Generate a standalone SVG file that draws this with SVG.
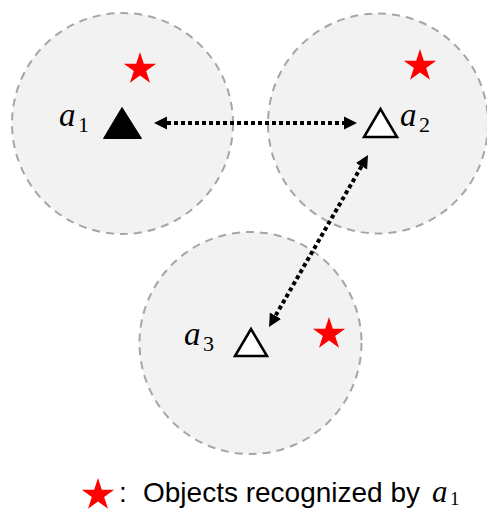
<svg xmlns="http://www.w3.org/2000/svg" xmlns:xlink="http://www.w3.org/1999/xlink" width="487" height="510" viewBox="0 0 487 510">
  <style>
    .range { fill: #f2f2f2; stroke: #a6a6a6; stroke-width: 2; stroke-dasharray: 8 6; }
    .agent-filled { fill: #000; stroke: #000; stroke-width: 1; stroke-linejoin: miter; }
    .agent-open { fill: #fff; stroke: #000; stroke-width: 2.5; stroke-linejoin: miter; }
    .obj { fill: #ff0000; }
    .link { fill: none; stroke: #000; stroke-width: 4; stroke-dasharray: 4 3; }
    .math { font-family: "Liberation Serif", "DejaVu Serif", serif; font-style: italic; font-size: 33px; fill: #000; }
    .sub { font-family: "Liberation Serif", "DejaVu Serif", serif; font-style: normal; font-size: 22px; fill: #000; }
    .legend { font-family: "Liberation Sans", Arial, sans-serif; font-size: 28px; fill: #000; }
  </style>
  <defs>
    <path id="star" d="M0,-17 L3.82,-5.25 L16.17,-5.25 L6.17,2.01 L9.99,13.75 L0,6.49 L-9.99,13.75 L-6.17,2.01 L-16.17,-5.25 L-3.82,-5.25 Z"/>
    <marker id="head" markerUnits="userSpaceOnUse" markerWidth="14" markerHeight="14" viewBox="0 -7 14 14" refX="0" refY="0" orient="auto-start-reverse">
      <path d="M0,-6.5 L13,0 L0,6.5 Z" fill="#000"/>
    </marker>
  </defs>

  <!-- agent a1 with its sensing range -->
  <g id="agent-a1">
    <circle class="range" cx="122.5" cy="123.5" r="110.5"/>
    <use xlink:href="#star" class="obj" transform="translate(140,69)"/>
    <polygon class="agent-filled" points="122,107.5 103.5,138.5 141.5,138.5"/>
    <text class="math" x="59" y="126">a</text>
    <text class="sub" x="78" y="132">1</text>
  </g>

  <!-- agent a2 with its sensing range -->
  <g id="agent-a2">
    <circle class="range" cx="378" cy="123.5" r="110"/>
    <use xlink:href="#star" class="obj" transform="translate(420,66)"/>
    <polygon class="agent-open" points="380.5,109 364,137 397,137"/>
    <text class="math" x="400" y="126">a</text>
    <text class="sub" x="419" y="132">2</text>
  </g>

  <!-- agent a3 with its sensing range -->
  <g id="agent-a3">
    <circle class="range" cx="250.5" cy="343" r="111"/>
    <use xlink:href="#star" class="obj" transform="translate(329,334)"/>
    <polygon class="agent-open" points="251,329 235,356 267,356"/>
    <text class="math" x="184" y="345">a</text>
    <text class="sub" x="203" y="351">3</text>
  </g>

  <!-- communication links -->
  <g id="connectors">
    <line class="link" x1="167" y1="123" x2="344" y2="123" marker-start="url(#head)" marker-end="url(#head)"/>
    <line class="link" x1="361.5" y1="166.3" x2="275.5" y2="315.7" marker-start="url(#head)" marker-end="url(#head)"/>
  </g>

  <!-- legend -->
  <g id="legend">
    <use xlink:href="#star" class="obj" transform="translate(98,495)"/>
    <text class="legend" x="119" y="502">:</text>
    <text class="legend" x="143" y="502">Objects recognized by</text>
    <text class="math" x="432" y="502" style="font-size:31px">a</text>
    <text class="sub" x="450" y="505" style="font-size:19px">1</text>
  </g>
</svg>
